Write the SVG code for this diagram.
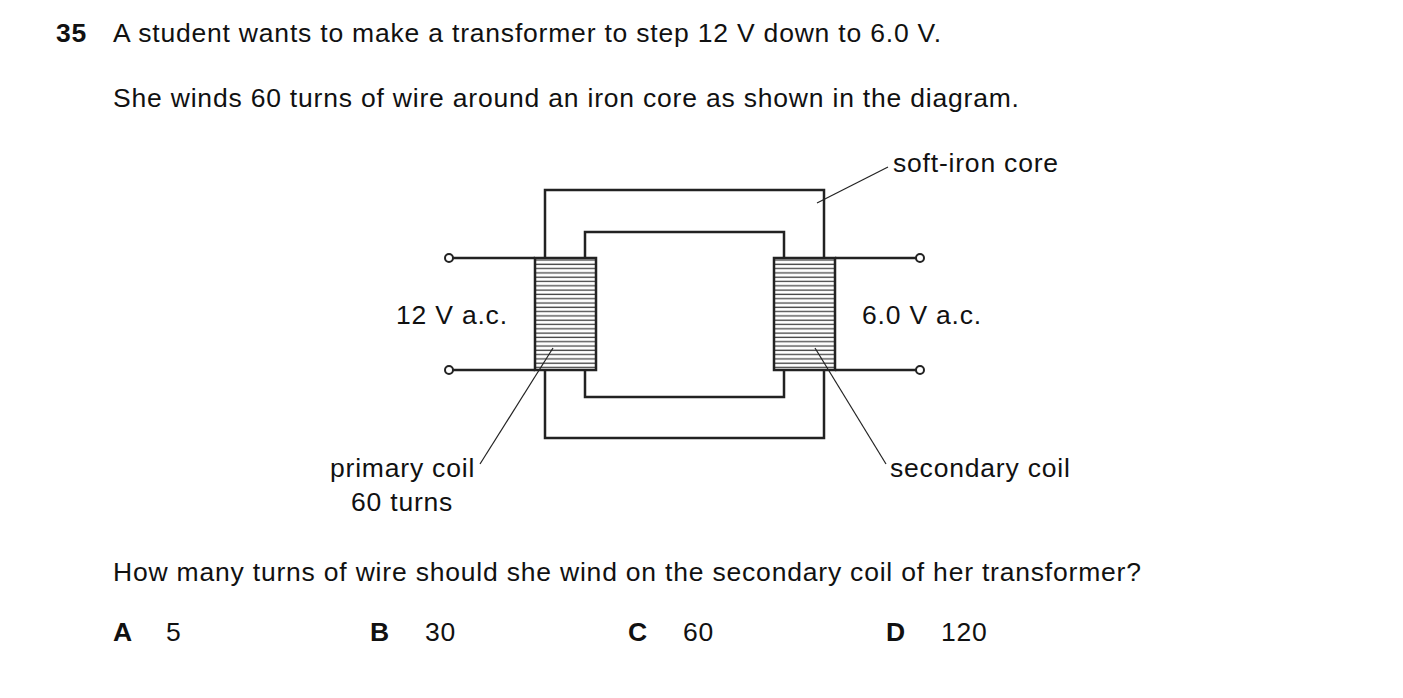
<svg xmlns="http://www.w3.org/2000/svg" width="1403" height="698" viewBox="0 0 1403 698">
<style>
text{font-family:"Liberation Sans",Arial,sans-serif;font-size:26.5px;letter-spacing:0.8px;fill:#111}
.b{font-weight:bold}
.s{fill:none;stroke:#222;stroke-width:2.5}
.l{fill:none;stroke:#222;stroke-width:1.2}
.t{fill:#fff;stroke:#222;stroke-width:2}
</style>
<defs>
<pattern id="h" width="10" height="4.3" patternUnits="userSpaceOnUse" y="258">
<rect width="10" height="4.3" fill="#fff"/>
<line x1="0" y1="2" x2="10" y2="2" stroke="#444" stroke-width="1.3"/>
</pattern>
</defs>
<rect width="1403" height="698" fill="#fff"/>
<text x="56" y="42" class="b">35</text>
<text x="113" y="42">A student wants to make a transformer to step 12 V down to 6.0 V.</text>
<text x="113" y="107">She winds 60 turns of wire around an iron core as shown in the diagram.</text>
<g id="core">
<rect class="s" x="545" y="190" width="279" height="248"/>
<rect class="s" x="585" y="232" width="199" height="165"/>
</g>
<g id="wires">
<line class="s" x1="453" y1="258" x2="535" y2="258"/>
<line class="s" x1="453" y1="370" x2="535" y2="370"/>
<line class="s" x1="835" y1="258" x2="916" y2="258"/>
<line class="s" x1="835" y1="370" x2="916" y2="370"/>
<circle class="t" cx="449" cy="258" r="4"/>
<circle class="t" cx="449" cy="370" r="4"/>
<circle class="t" cx="920" cy="258" r="4"/>
<circle class="t" cx="920" cy="370" r="4"/>
</g>
<g id="primary">
<rect x="535" y="258" width="61" height="112" fill="url(#h)" stroke="#222" stroke-width="2.5"/>
</g>
<g id="secondary">
<rect x="774" y="258" width="61" height="112" fill="url(#h)" stroke="#222" stroke-width="2.5"/>
</g>
<g id="connectors">
<line class="l" x1="817" y1="203" x2="888" y2="167"/>
<line class="l" x1="553" y1="348" x2="480" y2="464"/>
<line class="l" x1="815" y1="348" x2="886" y2="464"/>
</g>
<text x="893" y="172">soft-iron core</text>
<text x="396" y="324">12 V a.c.</text>
<text x="862" y="324">6.0 V a.c.</text>
<text x="330" y="477">primary coil</text>
<text x="351" y="511">60 turns</text>
<text x="890" y="477">secondary coil</text>
<text x="113" y="581">How many turns of wire should she wind on the secondary coil of her transformer?</text>
<text x="113" y="641" class="b">A</text><text x="166" y="641">5</text>
<text x="370" y="641" class="b">B</text><text x="425" y="641">30</text>
<text x="628" y="641" class="b">C</text><text x="683" y="641">60</text>
<text x="886" y="641" class="b">D</text><text x="941" y="641">120</text>
</svg>
